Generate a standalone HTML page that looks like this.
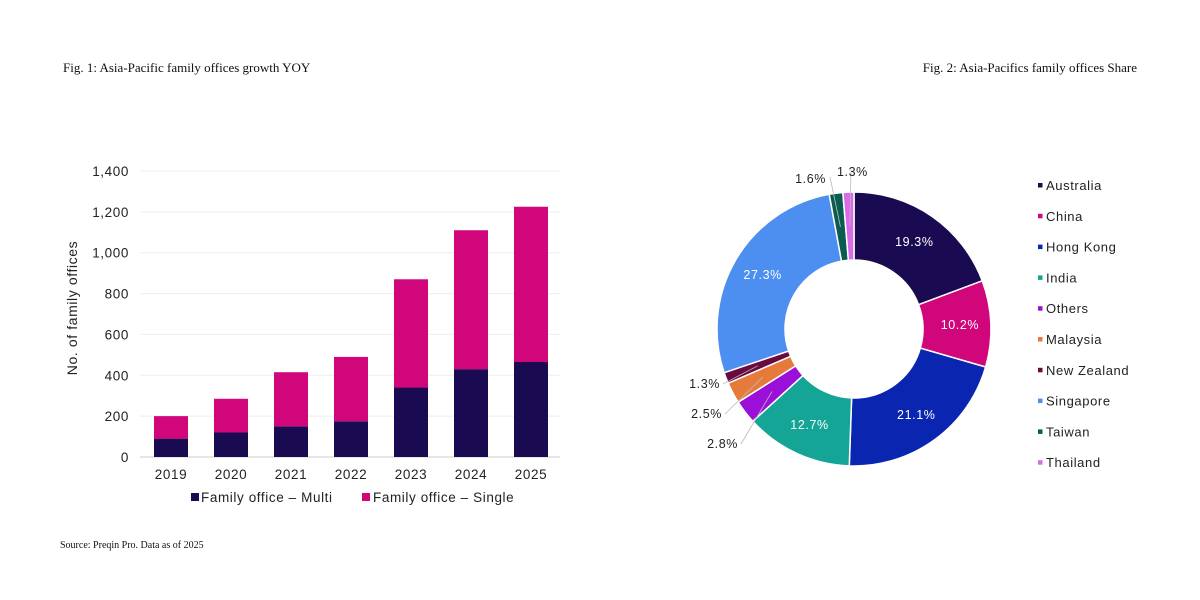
<!DOCTYPE html>
<html><head><meta charset="utf-8">
<style>
html,body{margin:0;padding:0;background:#fff;width:1200px;height:600px;overflow:hidden}
svg{display:block}
.serif{font-family:"Liberation Serif",serif;font-size:13px;fill:#111}
.sans{font-family:"Liberation Sans",sans-serif;fill:#222;letter-spacing:0.6px}
</style></head>
<body>
<svg id="chart" width="1200" height="600">
<text class="serif" x="63" y="72">Fig. 1: Asia-Pacific family offices growth YOY</text>
<text class="serif" x="1137" y="72" text-anchor="end">Fig. 2: Asia-Pacifics family offices Share</text>
<text class="serif" x="60" y="548" style="font-size:10px">Source: Preqin Pro. Data as of  2025</text>
<g id="bars"></g>
<g id="donut"></g>
</svg>
<script>
const years = ["2019","2020","2021","2022","2023","2024","2025"];
const multi = [90,120,150,175,340,430,465];
const single = [110,165,265,315,530,680,760];
const yTicks = [0,200,400,600,800,1000,1200,1400];
const yTickLabels = ["0","200","400","600","800","1,000","1,200","1,400"];
const regions = ["Australia","China","Hong Kong","India","Others","Malaysia","New Zealand","Singapore","Taiwan","Thailand"];
const shares = [19.3,10.2,21.1,12.7,2.8,2.5,1.3,27.3,1.6,1.3];
const shareLabels = ["19.3%","10.2%","21.1%","12.7%","2.8%","2.5%","1.3%","27.3%","1.6%","1.3%"];
const colors = ["#1a0a52","#d0067a","#0a26b0","#14a596","#9a10d8","#e57a3a","#6a0a40","#4d8ff0","#0a5c50","#d86be8"];

const NS="http://www.w3.org/2000/svg";
function mk(tag,attrs,parent,text){const e=document.createElementNS(NS,tag);for(const k in attrs)e.setAttribute(k,attrs[k]);if(text!==undefined)e.textContent=text;parent.appendChild(e);return e;}

const bg=document.getElementById('bars');
const x0=140,x1=560,yBase=457,yTop=171,yMax=1400;
const y=v=>yBase-(v/yMax)*(yBase-yTop);
const band=(x1-x0)/years.length;
const xc=i=>x0+band*(i+0.5)+1;
yTicks.forEach((t,i)=>{
  const g=mk('line',{x1:x0,x2:x1,y1:y(t),y2:y(t),stroke:t===0?'#ccc':'#eee','stroke-width':1},bg);
  
  
  const l=mk('text',{x:129,y:y(t)+5,'text-anchor':'end',class:'sans','font-size':13.5},bg,yTickLabels[i]);
  
  
});
const yt=mk('text',{x:0,y:0,transform:'translate(77,308) rotate(-90)','text-anchor':'middle',class:'sans','font-size':14},bg,'No. of family offices');


const bw=34;
years.forEach((yr,i)=>{
  const m=mk('rect',{x:xc(i)-bw/2,y:y(multi[i]),width:bw,height:yBase-y(multi[i]),fill:'#1a0a52'},bg);
  
  
  const s=mk('rect',{x:xc(i)-bw/2,y:y(multi[i]+single[i]),width:bw,height:y(multi[i])-y(multi[i]+single[i]),fill:'#d0067a'},bg);
  
  
  const t=mk('text',{x:xc(i),y:479,'text-anchor':'middle',class:'sans','font-size':13.5},bg,yr);
  
  
});
const lg1=mk('rect',{x:191,y:493,width:8,height:8,fill:'#1a0a52'},bg);


const lt1=mk('text',{x:201,y:502,class:'sans','font-size':13.5},bg,'Family office – Multi');


const lg2=mk('rect',{x:362,y:493,width:8,height:8,fill:'#d0067a'},bg);


const lt2=mk('text',{x:373,y:502,class:'sans','font-size':13.5},bg,'Family office – Single');



const dg=document.getElementById('donut');
const cx=854,cy=329,R=137,r=69;
const total=shares.reduce((a,b)=>a+b,0);
const pt=(a,rad)=>[cx+rad*Math.sin(a),cy-rad*Math.cos(a)];
let acc=0;
const outside={4:[738,448,1],5:[722,418,1],6:[720,388,1],8:[826,183,1],9:[837,176,0]};
shares.forEach((v,i)=>{
  const a0=acc/total*2*Math.PI, a1=(acc+v)/total*2*Math.PI; acc+=v;
  const large=(a1-a0)>Math.PI?1:0;
  const p0=pt(a0,R),p1=pt(a1,R),p2=pt(a1,r),p3=pt(a0,r);
  const d=`M${p0[0]},${p0[1]} A${R},${R} 0 ${large} 1 ${p1[0]},${p1[1]} L${p2[0]},${p2[1]} A${r},${r} 0 ${large} 0 ${p3[0]},${p3[1]} Z`;
  const s=mk('path',{d:d,fill:colors[i],stroke:'#fff','stroke-width':1.5},dg);
  
  
  const am=(a0+a1)/2;
  if(outside[i]){
    const o=outside[i];
    const pm=pt(am,(R+r)/2);
    const ex=i>=8?(i===8?o[0]+4:o[0]+14):o[0]+3;
    const ey=i>=8?o[1]-6:o[1]-4;
    const ln=mk('polyline',{points:`${pm[0]},${pm[1]} ${ex},${ey}`,fill:'none',stroke:'#bbb','stroke-width':0.8},dg);
    
    
    const t=mk('text',{x:o[0],y:o[1],'text-anchor':o[2]?'end':'start',class:'sans','font-size':12.5},dg,shareLabels[i]);
    
    
  } else {
    const pm=pt(am,(R+r)/2+3);
    const t=mk('text',{x:pm[0],y:pm[1]+4,'text-anchor':'middle',class:'sans','font-size':12.5,style:'fill:#fff'},dg,shareLabels[i]);
    
    
  }
});
regions.forEach((n,i)=>{
  const yy=185+i*30.8;
  const m=mk('rect',{x:1038,y:yy-2,width:4.5,height:4.5,fill:colors[i]},dg);
  
  
  const t=mk('text',{x:1046,y:yy+5,class:'sans','font-size':13},dg,n);
  
  
});
</script>
</body></html>
